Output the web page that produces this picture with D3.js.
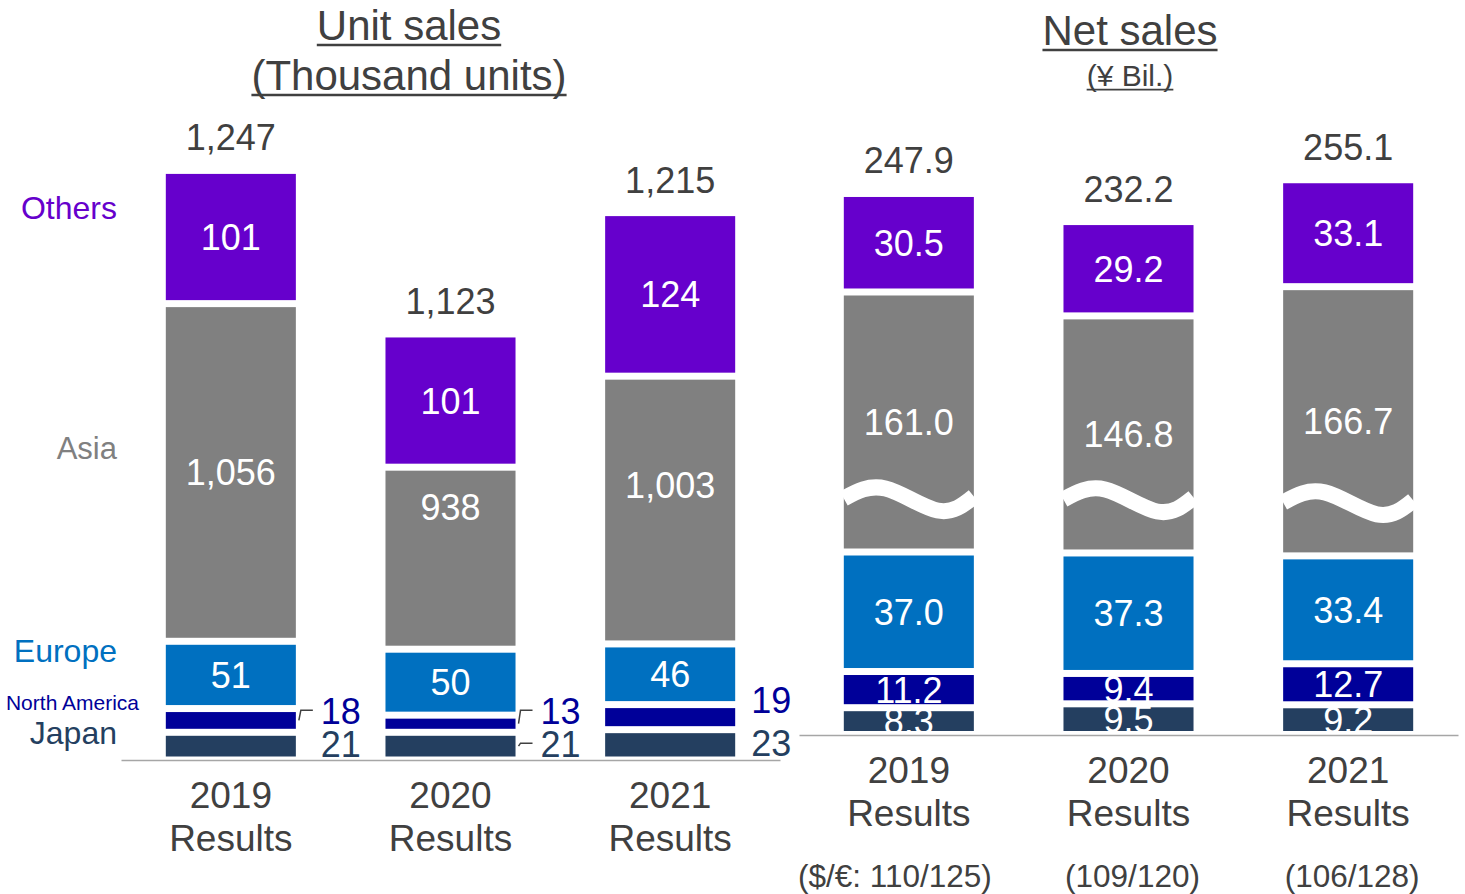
<!DOCTYPE html>
<html>
<head>
<meta charset="utf-8">
<script src="https://cdn.jsdelivr.net/npm/d3@7"></script>
<style>
  body { margin: 0; background: #fff; }
  svg { display: block; font-family: "Liberation Sans", Arial, sans-serif; }
</style>
</head>
<body>
<svg id="chart" width="1465" height="894"></svg>
<script>
const years = ["2019", "2020", "2021"];
const regions = ["Japan", "North America", "Europe", "Asia", "Others"];
const regionColors = ["#243F60", "#000099", "#0070C0", "#808080", "#6600CC"];

// unit sales, thousand units
const unitsJapan = [21, 21, 23];
const unitsNorthAmerica = [18, 13, 19];
const unitsEurope = [51, 50, 46];
const unitsAsia = [1056, 938, 1003];
const unitsOthers = [101, 101, 124];
const unitsTotal = [1247, 1123, 1215];

// net sales, yen bil.
const salesJapan = [8.3, 9.5, 9.2];
const salesNorthAmerica = [11.2, 9.4, 12.7];
const salesEurope = [37.0, 37.3, 33.4];
const salesAsia = [161.0, 146.8, 166.7];
const salesOthers = [30.5, 29.2, 33.1];
const salesTotal = [247.9, 232.2, 255.1];

const fxRates = ["($/\u20AC: 110/125)", "(109/120)", "(106/128)"];

// small labels with a leader line in the unit chart
const leaders = [["2019", "North America"], ["2020", "North America"], ["2020", "Japan"]];

const svg = d3.select("#chart");
const textColor = "#404040";

function underlinedTitle(x, y, txt, size, sw) {
  const t = svg.append("text")
    .attr("x", x).attr("y", y)
    .attr("text-anchor", "middle")
    .attr("font-size", size)
    .attr("fill", textColor)
    .text(txt);
  const w = t.node().getComputedTextLength();
  svg.append("line")
    .attr("x1", x - w / 2).attr("x2", x + w / 2)
    .attr("y1", y + size * 0.12).attr("y2", y + size * 0.12)
    .attr("stroke", textColor)
    .attr("stroke-width", sw);
}

function drawPanel(p) {
  const g = svg.append("g");

  // Asia is drawn on a broken scale, the other regions at full scale
  const rows = years.map((yr, i) => {
    const row = { year: yr };
    regions.forEach((r, k) => {
      row[r] = r === "Asia" ? p.asiaScale(p.values[k][i]) : p.values[k][i];
    });
    return row;
  });
  const series = d3.stack().keys(regions)(rows);

  const x = d3.scaleBand()
    .domain(years)
    .range(p.xRange)
    .paddingInner(0.408)
    .paddingOuter(0.204);
  const y = d3.scaleLinear()
    .domain([0, p.yMax])
    .range([p.base, p.base - p.yMax * p.pxPerUnit]);
  const bw = x.bandwidth();
  const gap = 3.5;

  series.forEach((s, k) => {
    g.append("g")
      .attr("fill", regionColors[k])
      .selectAll("rect")
      .data(s)
      .join("rect")
      .attr("x", d => x(d.data.year))
      .attr("y", d => y(d[1]) + gap)
      .attr("width", bw)
      .attr("height", d => Math.max(0, y(d[0]) - y(d[1]) - 2 * gap));
  });

  // wavy break marks across the Asia segment
  if (p.wave) {
    const wave = d3.line().curve(d3.curveNatural);
    series[3].forEach(d => {
      const x0 = x(d.data.year), x1 = x0 + bw;
      const yb = y(d[0]) - gap;
      g.append("path")
        .attr("d", wave([
          [x0, yb - 50], [x0 + 0.32 * bw, yb - 60],
          [x0 + 0.72 * bw, yb - 38], [x1, yb - 52]
        ]))
        .attr("fill", "none")
        .attr("stroke", "#fff")
        .attr("stroke-width", 16);
    });
  }

  // value labels
  series.forEach((s, k) => {
    const region = regions[k];
    s.forEach((d, i) => {
      const v = p.values[k][i];
      const cx = x(d.data.year) + bw / 2;
      const mid = (y(d[0]) + y(d[1])) / 2;
      if (p.outside.includes(region)) {
        const jMid = (y(series[0][i][0]) + y(series[0][i][1])) / 2;
        const jLabel = jMid - 2;
        const hasLeader = leaders.some(l => l[0] === d.data.year && l[1] === region);
        const yearHasLeader = leaders.some(l => l[0] === d.data.year);
        let ly = jLabel;
        if (region !== "Japan") ly = hasLeader ? Math.min(mid - 8, jLabel - 33) : mid - 17;
        const right = x(d.data.year) + bw;
        const lx = right + (yearHasLeader ? 25 : 16);
        if (hasLeader) {
          g.append("polyline")
            .attr("points", [[right + 3, mid], [right + 5, ly - 1], [right + 17, ly - 1]].join(" "))
            .attr("fill", "none")
            .attr("stroke", textColor)
            .attr("stroke-width", 1.5);
        }
        g.append("text")
          .attr("x", lx).attr("y", ly).attr("dy", "0.36em")
          .attr("font-size", 36)
          .attr("fill", regionColors[k])
          .text(p.fmt(v));
      } else {
        const shift = p.labelShift && p.labelShift[region] ? p.labelShift[region][i] : 0;
        g.append("text")
          .attr("x", cx).attr("y", mid + shift).attr("dy", "0.36em")
          .attr("text-anchor", "middle")
          .attr("font-size", 36)
          .attr("fill", "#fff")
          .text(p.fmt(v));
      }
    });
  });

  // totals
  series[4].forEach((d, i) => {
    g.append("text")
      .attr("x", x(d.data.year) + bw / 2)
      .attr("y", y(d[1]) - 20)
      .attr("text-anchor", "middle")
      .attr("font-size", 36)
      .attr("fill", textColor)
      .text(p.fmt(p.totals[i]));
  });

  // region names on the left of the unit chart
  if (p.legend) {
    regions.forEach((r, k) => {
      const d = series[k][0];
      const mid = (y(d[0]) + y(d[1])) / 2;
      const L = p.legend[r];
      g.append("text")
        .attr("x", L.xEnd).attr("y", mid + L.dy).attr("dy", "0.36em")
        .attr("text-anchor", "end")
        .attr("font-size", L.size)
        .attr("fill", regionColors[k])
        .text(r);
    });
  }

  // category axis
  const axis = g.append("g")
    .attr("transform", `translate(0,${p.axisY})`)
    .call(d3.axisBottom(x).tickSize(0).tickSizeOuter(0));
  axis.select(".domain").attr("stroke", "#a6a6a6").attr("stroke-width", 1.5);
  axis.selectAll(".tick text").remove();
  axis.selectAll(".tick").each(function (d, i) {
    const t = d3.select(this).append("text")
      .attr("text-anchor", "middle")
      .attr("font-size", 37)
      .attr("font-family", "Liberation Sans, Arial, sans-serif")
      .attr("fill", textColor);
    t.append("tspan").attr("x", 0).attr("y", 48).text(d);
    t.append("tspan").attr("x", 0).attr("y", 91).text("Results");
    if (p.fx) {
      d3.select(this).append("text")
        .attr("x", i === 0 ? -14 : 4).attr("y", 152)
        .attr("text-anchor", "middle")
        .attr("font-size", 31.5)
        .attr("font-family", "Liberation Sans, Arial, sans-serif")
        .attr("fill", textColor)
        .text(p.fx[i]);
    }
  });
}

underlinedTitle(409, 40, "Unit sales", 42, 2.5);
underlinedTitle(409, 90, "(Thousand units)", 42, 2.5);
underlinedTitle(1130, 45, "Net sales", 42, 2.5);
underlinedTitle(1130, 86, "(\u00A5 Bil.)", 30, 1.8);

drawPanel({
  values: [unitsJapan, unitsNorthAmerica, unitsEurope, unitsAsia, unitsOthers],
  totals: unitsTotal,
  asiaScale: d3.scaleLinear().domain([800, 1100]).range([0, 300]),
  xRange: [121, 780],
  base: 760,
  axisY: 760,
  yMax: 450,
  pxPerUnit: 1.319,
  fmt: d3.format(","),
  outside: ["Japan", "North America"],
  labelShift: { Asia: [0, -51, -25] },
  legend: {
    "Japan": { xEnd: 117, dy: -14, size: 32 },
    "North America": { xEnd: 139, dy: -18, size: 21 },
    "Europe": { xEnd: 117, dy: -24, size: 32 },
    "Asia": { xEnd: 117, dy: -25, size: 31 },
    "Others": { xEnd: 117, dy: -30, size: 32 }
  }
});

drawPanel({
  values: [salesJapan, salesNorthAmerica, salesEurope, salesAsia, salesOthers],
  totals: salesTotal,
  asiaScale: d3.scaleLinear().domain([0, 170]).range([0, 85]),
  xRange: [799, 1458],
  base: 734.5,
  axisY: 735,
  yMax: 180,
  pxPerUnit: 3.23,
  fmt: d3.format(".1f"),
  outside: [],
  wave: true,
  fx: fxRates
});
</script>
</body>
</html>
